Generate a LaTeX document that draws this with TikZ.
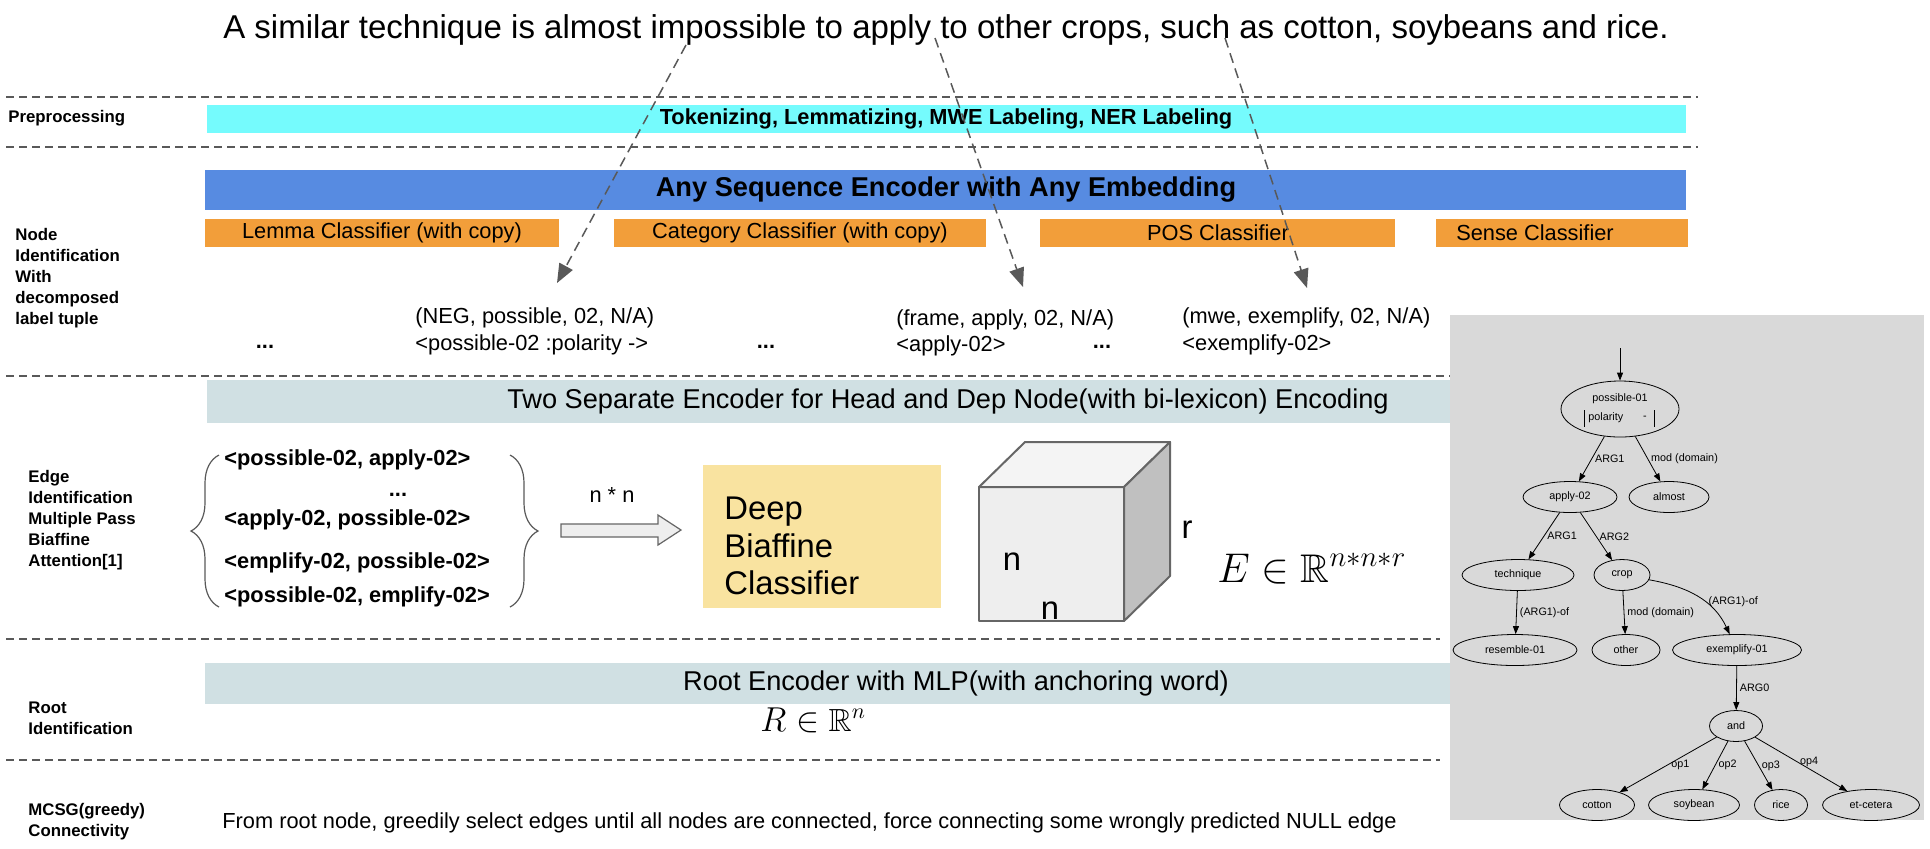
\documentclass[tikz,border=0pt]{standalone}
\usepackage{amsmath, amssymb}
\usepackage{fontspec}
\setmainfont{Liberation Sans}
\usepackage{tikz}
\usetikzlibrary{shapes.geometric, arrows.meta, positioning, calc,
                decorations.pathreplacing}
\definecolor{prepcyan}{RGB}{117, 251, 253}
\definecolor{encblue}{RGB}{87, 139, 225}
\definecolor{clsorange}{RGB}{242, 158, 58}
\definecolor{barslate}{RGB}{208, 224, 227}
\definecolor{biayellow}{RGB}{249, 227, 160}
\definecolor{amrgray}{RGB}{217, 217, 217}
\definecolor{sepgray}{RGB}{89, 89, 89}
\definecolor{cubeline}{RGB}{102, 102, 102}
\definecolor{cubefront}{RGB}{238, 238, 238}
\definecolor{cubetop}{RGB}{244, 244, 244}
\definecolor{cubeside}{RGB}{192, 192, 192}

\tikzset{
    stagelbl/.style={font=\bfseries\fontsize{8.4}{10.5}\selectfont,
                     align=left, anchor=west, inner sep=0pt},
    bodytxt/.style={font=\fontsize{10.9}{13}\selectfont, inner sep=0pt},
    pairtxt/.style={font=\bfseries\fontsize{10.9}{13}\selectfont,
                    inner sep=0pt, anchor=west},
    bigtxt/.style={font=\fontsize{13.6}{16}\selectfont, inner sep=0pt},
    cubetxt/.style={font=\fontsize{16.4}{19}\selectfont, inner sep=0pt},
    seprule/.style={sepgray, line width=1.2pt, dash pattern=on 4pt off 2.5pt},
    wordarrow/.style={sepgray, line width=0.75pt, dash pattern=on 5pt off 3pt,
                      -{Triangle[length=9.5pt, width=7.5pt]}},
    amrnode/.style={draw, ellipse, line width=0.4pt, inner sep=0pt,
                    minimum height=15.5pt, font=\fontsize{5.4}{6.5}\selectfont},
    amrtxt/.style={font=\fontsize{5.4}{6.5}\selectfont, inner sep=0pt},
    amredge/.style={-{Triangle[length=4pt, width=3pt]}, line width=0.4pt},
    amrlbl/.style={font=\fontsize{5.4}{6.5}\selectfont, inner sep=1.5pt,
                   anchor=west}
}

\begin{document}
\begin{tikzpicture}[x=0.5pt, y=-0.5pt]
    \useasboundingbox (0,0) rectangle (1930,848);

    \node[font=\fontsize{16.5}{20}\selectfont, anchor=base, inner sep=0pt]
        (sentence) at (946,38)
        {A similar technique is almost impossible to apply to other crops, such as cotton, soybeans and rice.};

    \foreach \y/\xe in {97/1698, 147/1698, 376/1450, 639/1440, 760/1440}
        \draw[seprule] (6,\y) -- (\xe,\y);

    \node[stagelbl] (lprep) at (8,118) {Preprocessing};
    \node[stagelbl] (lnode) at (15,278)
        {Node\\Identification\\With\\decomposed\\label tuple};
    \node[stagelbl] (ledge) at (28,520)
        {Edge\\Identification\\Multiple Pass\\Biaffine\\Attention[1]};
    \node[stagelbl] (lroot) at (28,718) {Root\\Identification};
    \node[stagelbl] (lmcsg) at (28,822) {MCSG(greedy)\\Connectivity};

    \fill[prepcyan] (207,105) rectangle (1686,133);
    \node[font=\bfseries\fontsize{10.9}{13}\selectfont, inner sep=0pt]
        (prep) at (946,119) {Tokenizing, Lemmatizing, MWE Labeling, NER Labeling};
    \fill[encblue] (205,170) rectangle (1686,210);
    \node[font=\bfseries\fontsize{13.6}{16}\selectfont, inner sep=0pt]
        (seqenc) at (946,190) {Any Sequence Encoder with Any Embedding};
    \foreach \xa/\xb/\xc/\name/\txt in {205/559/382/lemma/{Lemma Classifier (with copy)},
                                        614/986/800/categ/{Category Classifier (with copy)},
                                        1040/1395/1218/pos/{POS Classifier},
                                        1436/1688/1535/sense/{Sense Classifier}}
    {
        \fill[clsorange] (\xa,219) rectangle (\xb,247);
        \node[bodytxt] (\name) at (\xc,233) {\txt};
    }

    \node[bodytxt, anchor=west] (negtup) at (415,318) {(NEG, possible, 02, N/A)};
    \node[bodytxt, anchor=west] (negamr) at (415,345) {<possible-02 :polarity ->};
    \node[bodytxt, anchor=west] (apptup) at (896,320) {(frame, apply, 02, N/A)};
    \node[bodytxt, anchor=west] (appamr) at (896,346) {<apply-02>};
    \node[bodytxt, anchor=west] (exetup) at (1182,318) {(mwe, exemplify, 02, N/A)};
    \node[bodytxt, anchor=west] (exeamr) at (1182,345) {<exemplify-02>};
    \foreach \x/\name in {265/dotsa, 766/dotsb, 1102/dotsc}
        \node[font=\bfseries\fontsize{10.9}{13}\selectfont, inner sep=0pt]
            (\name) at (\x,347) {...};

    \coordinate (wimp) at (686,45);
    \coordinate (wapp) at (935,38);
    \coordinate (wsuch) at (1225,38);
    \coordinate (timp) at (557,283);
    \coordinate (tapp) at (1023,287);
    \coordinate (tsuch) at (1307,288);
    \draw[wordarrow] (wimp) -- (timp);
    \draw[wordarrow] (wapp) -- (tapp);
    \draw[wordarrow] (wsuch) -- (tsuch);

    \fill[barslate] (207,380) rectangle (1450,423);
    \node[bigtxt] (headdep) at (948,401)
        {Two Separate Encoder for Head and Dep Node(with bi-lexicon) Encoding};

    \draw[sepgray, line width=0.6pt, decorate, decoration={brace, amplitude=14pt}]
        (219,607) -- (219,455);
    \draw[sepgray, line width=0.6pt, decorate, decoration={brace, amplitude=14pt}]
        (510,455) -- (510,607);
    \node[pairtxt] (pairA) at (224,460) {<possible-02, apply-02>};
    \node[font=\bfseries\fontsize{10.9}{13}\selectfont, inner sep=0pt]
        (pairdots) at (398,495) {...};
    \node[pairtxt] (pairB) at (224,520) {<apply-02, possible-02>};
    \node[pairtxt] (pairC) at (224,563) {<emplify-02, possible-02>};
    \node[pairtxt] (pairD) at (224,597) {<possible-02, emplify-02>};

    \node[bodytxt] (nxn) at (612,495) {n * n};
    \draw[cubeline, fill=cubefront, line width=0.6pt]
        (561,524) -- (658,524) -- (658,515) -- (681,530)
        -- (658,545) -- (658,537) -- (561,537) -- cycle;

    \fill[biayellow] (703,465) rectangle (941,608);
    \node[font=\fontsize{16.4}{18.75}\selectfont, align=left, anchor=west,
          inner sep=0pt] (biaff) at (724,546) {Deep\\Biaffine\\Classifier};

    \coordinate (fbl) at (979,621);
    \coordinate (fbr) at (1124,621);
    \coordinate (ftr) at (1124,487);
    \coordinate (ftl) at (979,487);
    \coordinate (btl) at (1025,442);
    \coordinate (btr) at (1170,442);
    \coordinate (bbr) at (1170,576);
    \draw[cubeline, fill=cubefront, line width=1pt, line join=round]
        (fbl) -- (fbr) -- (ftr) -- (ftl) -- cycle;
    \draw[cubeline, fill=cubetop, line width=1pt, line join=round]
        (ftl) -- (btl) -- (btr) -- (ftr) -- cycle;
    \draw[cubeline, fill=cubeside, line width=1pt, line join=round]
        (ftr) -- (btr) -- (bbr) -- (fbr) -- cycle;
    \node[cubetxt] (cuben) at (1012,562) {n};
    \node[cubetxt] (cubenb) at (1050,611) {n};
    \node[cubetxt] (cuber) at (1187,530) {r};
    \node[font=\fontsize{20}{24}\selectfont, inner sep=0pt, anchor=base west]
        (edgeset) at (1217,582) {$E \in \mathbb{R}^{n*n*r}$};

    \fill[barslate] (205,663) rectangle (1450,704);
    \node[bigtxt] (rootenc) at (956,683) {Root Encoder with MLP(with anchoring word)};
    \node[font=\fontsize{16}{19}\selectfont, inner sep=0pt, anchor=base west]
        (rootset) at (760,731) {$R \in \mathbb{R}^n$};

    \node[bodytxt, anchor=west] (greedy) at (222,823)
        {From root node, greedily select edges until all nodes are connected, force connecting some wrongly predicted NULL edge};

    \fill[amrgray] (1450,315) rectangle (1924,820);
    \node[amrnode, minimum width=59pt, minimum height=28pt] (poss) at (1620,409) {};
    \node[amrtxt] (posstxt) at (1620,399) {possible-01};
    \node[amrtxt, anchor=west] (polar) at (1588,418) {polarity};
    \node[amrtxt] (polneg) at (1645,418) {-};
    \draw[line width=0.4pt] (1584,410) -- (1584,427) (1654,410) -- (1654,427);
    \node[amrnode, minimum width=47pt] (apply) at (1570,497) {apply-02};
    \node[amrnode, minimum width=40pt] (almost) at (1669,497) {almost};
    \node[amrnode, minimum width=56pt] (techn) at (1518,575) {technique};
    \node[amrnode, minimum width=28pt] (crop) at (1622,575) {crop};
    \node[amrnode, minimum width=62pt] (resem) at (1515,650) {resemble-01};
    \node[amrnode, minimum width=34pt] (other) at (1626,650) {other};
    \node[amrnode, minimum width=64.5pt] (exemp) at (1737,650) {exemplify-01};
    \node[amrnode, minimum width=26.5pt] (and) at (1736,726) {and};
    \node[amrnode, minimum width=37.5pt] (cotton) at (1597,805) {cotton};
    \node[amrnode, minimum width=45.5pt] (soy) at (1694,805) {soybean};
    \node[amrnode, minimum width=26.5pt] (rice) at (1781,805) {rice};
    \node[amrnode, minimum width=48.5pt] (etc) at (1871,805) {et-cetera};

    \coordinate (amrtop) at (1620,348);
    \draw[amredge] (amrtop) -- (poss);
    \draw[amredge] (poss) -- node[amrlbl] {ARG1} (apply);
    \draw[amredge] (poss) -- node[amrlbl] {mod (domain)} (almost);
    \draw[amredge] (apply) -- node[amrlbl] {ARG1} (techn);
    \draw[amredge] (apply) -- node[amrlbl] {ARG2} (crop);
    \draw[amredge] (techn) -- node[amrlbl] {(ARG1)-of} (resem);
    \draw[amredge] (crop) -- node[amrlbl] {mod (domain)} (other);
    \draw[amredge] (crop) to[out=-10, in=115] node[amrlbl, pos=.6] {(ARG1)-of} (exemp);
    \draw[amredge] (exemp) -- node[amrlbl] {ARG0} (and);
    \draw[amredge] (and) -- node[amrlbl] {op1} (cotton);
    \draw[amredge] (and) -- node[amrlbl] {op2} (soy);
    \draw[amredge] (and) -- node[amrlbl] {op3} (rice);
    \draw[amredge] (and) -- node[amrlbl, pos=.45] {op4} (etc);
\end{tikzpicture}
\end{document}
